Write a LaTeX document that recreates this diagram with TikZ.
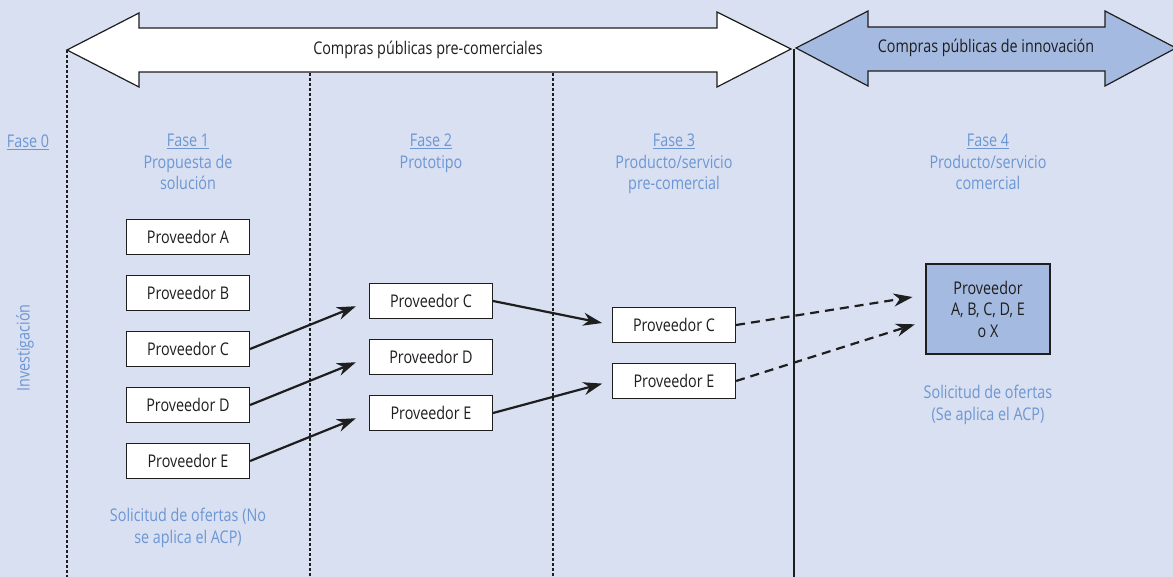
\documentclass[tikz,border=0pt]{standalone}
\usepackage{fontspec}
\setmainfont{Open Sans}[FakeStretch=0.82]
\usetikzlibrary{arrows.meta}
\definecolor{fondo}{RGB}{217,224,241}
\definecolor{azulcaja}{RGB}{165,186,224}
\definecolor{azultexto}{RGB}{108,150,212}
\definecolor{tinta}{RGB}{30,30,30}

\begin{document}
\begin{tikzpicture}[x=1pt, y=-1pt,
		caja/.style={draw=tinta, line width=1.2pt, fill=white, minimum width=123pt, minimum height=35pt, inner sep=0pt, text=tinta, font=\fontsize{17.5}{20}\selectfont},
		etiqueta/.style={text=azultexto, align=center, inner sep=0pt, font=\fontsize{17.5}{21.5}\selectfont},
		flecha/.style={-{Stealth[length=19pt, width=13pt, inset=6pt]}, line width=2.2pt, tinta},
		separador/.style={tinta, line width=1.2pt, dash pattern=on 3pt off 2pt}]
	% fondo y margen
	\fill[fondo] (0,0) rectangle (1173,577);
	\useasboundingbox (0,0) rectangle (1173,577);
	
	% === separadores de fases ===
	\draw[separador] (67,50) -- (67,577);
	\draw[separador] (310,73) -- (310,577);
	\draw[separador] (553,73) -- (553,577);
	\draw[tinta, line width=2pt] (794,49) -- (794,577);
	
	% === flechas grandes ===
	\draw[tinta, line width=1.2pt, fill=white] (67,50) -- (139,13) -- (139,28) -- (717,28) -- (717,12) -- (791,49)
		-- (717,87) -- (717,72) -- (139,72) -- (139,87) -- cycle;
	\node[text=tinta, font=\fontsize{17.5}{20}\selectfont] (cpp) at (428,50) {Compras públicas pre-comerciales};
	\draw[tinta, line width=1.2pt, fill=azulcaja] (796,48) -- (868,11) -- (868,27) -- (1105,27) -- (1105,11) -- (1176,48)
		-- (1105,86) -- (1105,71) -- (868,71) -- (868,86) -- cycle;
	\node[text=tinta, font=\fontsize{17.5}{20}\selectfont] (cpi) at (986,48) {Compras públicas de innovación};
	
	% === titulos de fases ===
	\node[etiqueta] (f0) at (28,142) {\underline{Fase 0}};
	\node[etiqueta, anchor=north] (f1) at (188,134) {\underline{Fase 1}\\Propuesta de\\solución};
	\node[etiqueta, anchor=north] (f2) at (431,134) {\underline{Fase 2}\\Prototipo};
	\node[etiqueta, anchor=north] (f3) at (674,134) {\underline{Fase 3}\\Producto/servicio\\pre-comercial};
	\node[etiqueta, anchor=north] (f4) at (988,134) {\underline{Fase 4}\\Producto/servicio\\comercial};
	\node[etiqueta, rotate=90] (inv) at (25,348) {Investigación};
	
	% === proveedores ===
	\node[caja] (p1a) at (188,237) {Proveedor A};
	\node[caja] (p1b) at (188,293) {Proveedor B};
	\node[caja] (p1c) at (188,349) {Proveedor C};
	\node[caja] (p1d) at (188,405) {Proveedor D};
	\node[caja] (p1e) at (188,461) {Proveedor E};
	
	\node[caja] (p2c) at (431,301) {Proveedor C};
	\node[caja] (p2d) at (431,357) {Proveedor D};
	\node[caja] (p2e) at (431,413) {Proveedor E};
	
	\node[caja] (p3c) at (674,325) {Proveedor C};
	\node[caja] (p3e) at (674,381) {Proveedor E};
	
	\node[caja, fill=azulcaja, minimum width=124pt, minimum height=90pt, align=center, font=\fontsize{17.5}{21.5}\selectfont] (p4) at (988,309) {Proveedor\\A, B, C, D, E\\o X};
	
	% === solicitudes ===
	\node[etiqueta] (sol1) at (188,528) {Solicitud de ofertas (No\\se aplica el ACP)};
	\node[etiqueta] (sol4) at (988,405) {Solicitud de ofertas\\(Se aplica el ACP)};
	
	% === flechas entre fases ===
	\draw[flecha, shorten >=14pt] (p1c.east) -- (p2c.west);
	\draw[flecha, shorten >=14pt] (p1d.east) -- (p2d.west);
	\draw[flecha, shorten >=14pt] (p1e.east) -- (p2e.west);
	\draw[flecha, shorten >=10pt] (p2c.east) -- (p3c.west);
	\draw[flecha, shorten >=10pt] (p2e.east) -- (p3e.west);
	\draw[flecha, dash pattern=on 9pt off 6pt, shorten >=13pt] (p3c.east) -- ([yshift=14pt]p4.west);
	\draw[flecha, dash pattern=on 9pt off 6pt, shorten >=11pt] (p3e.east) -- ([yshift=-12pt]p4.west);
\end{tikzpicture}
\end{document}
